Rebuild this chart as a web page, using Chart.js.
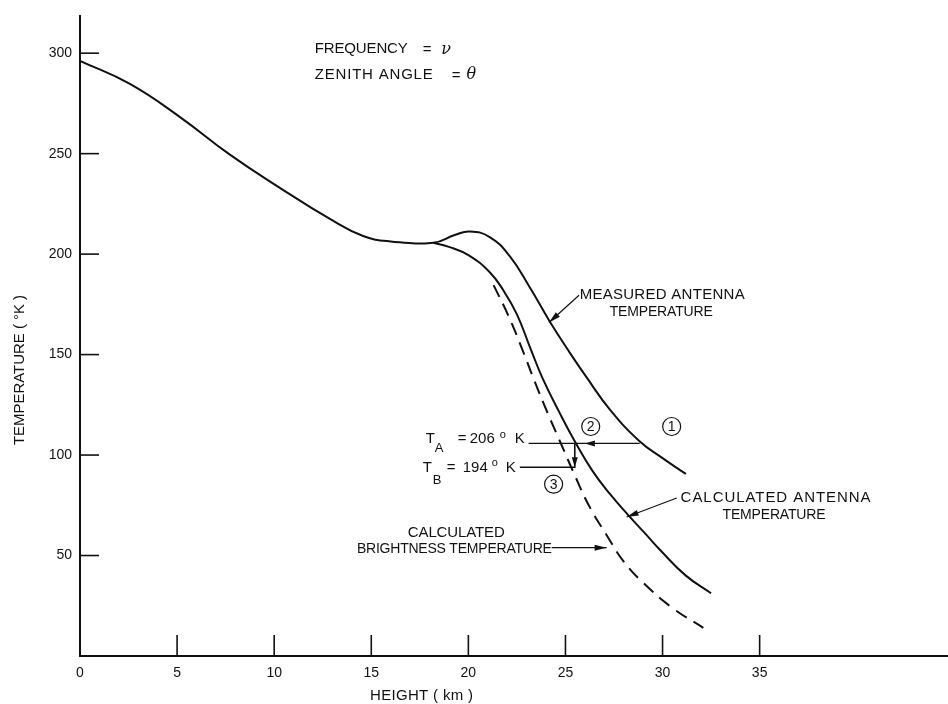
<!DOCTYPE html>
<html>
<head>
<meta charset="utf-8">
<script src="https://cdn.jsdelivr.net/npm/chart.js@4.4.1/dist/chart.umd.min.js"></script>
<style>
  html, body { margin: 0; padding: 0; background: #fff; }
  #wrap { width: 948px; height: 704px; }
</style>
</head>
<body>
<div id="wrap"><canvas id="c" width="948" height="704"></canvas></div>
<script>
// height (km) on x, temperature (K) on y
const xTicks = [0, 5, 10, 15, 20, 25, 30, 35];
const yTicks = [50, 100, 150, 200, 250, 300];

// measured antenna temperature (includes the shared lower part)
const measuredHeight = [0, 2.57, 5.15, 7.72, 10.29, 12.87, 14.58, 16.0, 18.2, 19.3, 20.07, 21.1, 22.13, 23.16, 24.19, 25.22, 26.1, 27.3, 28.8, 30.0, 31.2];
const measuredTemp   = [296.2, 284.7, 268.2, 249.5, 233, 217.5, 209, 206.3, 205.7, 209.5, 211.3, 208.5, 199, 183.5, 166.5, 151, 138.5, 122.5, 107, 98.5, 90.6];

// calculated antenna temperature (branches off at ~18 km)
const antennaHeight = [18.2, 19.0, 20.0, 21.1, 21.8, 22.5, 23.2, 23.83, 24.7, 25.5, 26.4, 27.3, 28.2, 29.1, 29.9, 31.2, 32.5];
const antennaTemp   = [205.7, 203.6, 199.5, 191, 182, 170, 153, 138, 121, 106.5, 92, 80.5, 70.5, 61, 52.5, 40, 31.2];

// calculated brightness temperature (dashed)
const brightHeight = [21.3, 22.1, 22.8, 23.4, 24.1, 24.8, 25.5, 26.2, 27.1, 28.0, 29.0, 30.5, 32.1];
const brightTemp   = [184.6, 168.5, 152, 137, 120.5, 105, 89.5, 75, 60.5, 47, 36.5, 24, 14];

const FONT = "'Liberation Sans', Arial, sans-serif";
const BLACK = '#111';

// annotation text: text, x (km), y (K), target width px, font px
const notes = [
  ['FREQUENCY', 12.09, 302, 93, 15],
  ['ZENITH ANGLE', 12.09, 289.1, 118, 15],
  ['MEASURED ANTENNA', 25.73, 179.9, 165, 15],
  ['TEMPERATURE', 27.28, 171, 103, 14],
  ['CALCULATED ANTENNA', 30.93, 78.6, 190, 15],
  ['TEMPERATURE', 33.09, 70.2, 103, 14],
  ['CALCULATED', 16.88, 61.3, 97, 15],
  ['BRIGHTNESS TEMPERATURE', 14.26, 53.4, 195, 14],
];

// T_A / T_B label pieces: text, x (km), y (K), font px
const readouts = [
  ['T', 17.81, 108.2, 15], ['A', 18.27, 103.3, 13], ['=', 19.45, 108.2, 15],
  ['206', 20.07, 108.2, 15], ['o', 21.62, 109.9, 11], ['K', 22.39, 108.2, 15],
  ['T', 17.65, 93.4, 15], ['B', 18.17, 87.5, 13], ['=', 18.89, 93.4, 15],
  ['194', 19.71, 93.4, 15], ['o', 21.2, 95.9, 11], ['K', 21.92, 93.4, 15],
];

// leader arrows: from (x,y) to (x,y), head at the end
const leaders = [
  [25.7, 179.5, 24.15, 166],
  [30.73, 78.6, 28.15, 69.2],
  [24.29, 53.9, 27.12, 53.9],
];

const circled = [['1', 30.47, 114.2], ['2', 26.3, 114.2], ['3', 24.39, 85.5]];

function fitText(ctx, text, x, y, width) {
  ctx.letterSpacing = '0px';
  const w = ctx.measureText(text).width;
  const sp = width && text.length > 1 ? (width - w) / (text.length - 1) : 0;
  ctx.letterSpacing = sp + 'px';
  ctx.fillText(text, x, y);
  ctx.letterSpacing = '0px';
}

function arrowHead(ctx, x, y, ang, len, half) {
  ctx.beginPath();
  ctx.moveTo(x, y);
  ctx.lineTo(x - len * Math.cos(ang) + half * Math.sin(ang), y - len * Math.sin(ang) - half * Math.cos(ang));
  ctx.lineTo(x - len * Math.cos(ang) - half * Math.sin(ang), y - len * Math.sin(ang) + half * Math.cos(ang));
  ctx.closePath();
  ctx.fill();
}

const decorations = {
  id: 'decorations',
  afterDraw(chart) {
    const ctx = chart.ctx;
    const sx = chart.scales.x, sy = chart.scales.y;
    const px = v => sx.getPixelForValue(v);
    const py = v => sy.getPixelForValue(v);
    const area = chart.chartArea;

    ctx.save();
    ctx.strokeStyle = BLACK;
    ctx.fillStyle = BLACK;

    // inward tick marks
    ctx.lineWidth = 1.6;
    xTicks.forEach(v => {
      if (v === 0) return;
      ctx.beginPath();
      ctx.moveTo(px(v), area.bottom);
      ctx.lineTo(px(v), area.bottom - 21);
      ctx.stroke();
    });
    yTicks.forEach(v => {
      ctx.beginPath();
      ctx.moveTo(area.left, py(v));
      ctx.lineTo(area.left + 19, py(v));
      ctx.stroke();
    });

    // texts
    ctx.textBaseline = 'middle';
    ctx.textAlign = 'left';
    notes.forEach(n => {
      ctx.font = `${n[4]}px ${FONT}`;
      fitText(ctx, n[0], px(n[1]), py(n[2]), n[3]);
    });

    ctx.font = `15px ${FONT}`;
    ctx.fillText('=', px(17.65), py(301.5));
    ctx.fillText('=', px(19.15), py(288.6));
    ctx.font = `italic 16px 'DejaVu Serif', serif`;
    ctx.fillText('ν', px(18.6), py(301.5));
    ctx.fillText('θ', px(19.9), py(289.1));

    readouts.forEach(r => {
      ctx.font = `${r[3]}px ${FONT}`;
      ctx.fillText(r[0], px(r[1]), py(r[2]));
    });

    // T_A horizontal line with left arrow
    ctx.lineWidth = 1.2;
    ctx.beginPath();
    ctx.moveTo(px(23.1), py(105.8));
    ctx.lineTo(px(28.82), py(105.8));
    ctx.stroke();
    arrowHead(ctx, px(26.0), py(105.8), Math.PI, 10, 3);
    // T_B line and drop arrow
    ctx.lineWidth = 1.6;
    ctx.beginPath();
    ctx.moveTo(px(22.65), py(93.9));
    ctx.lineTo(px(25.48), py(93.9));
    ctx.lineTo(px(25.48), py(105.8));
    ctx.stroke();
    arrowHead(ctx, px(25.48), py(93.9), Math.PI / 2, 10, 3);

    // leader arrows
    ctx.lineWidth = 1.2;
    leaders.forEach(l => {
      const x0 = px(l[0]), y0 = py(l[1]), x1 = px(l[2]), y1 = py(l[3]);
      ctx.beginPath();
      ctx.moveTo(x0, y0);
      ctx.lineTo(x1, y1);
      ctx.stroke();
      arrowHead(ctx, x1, y1, Math.atan2(y1 - y0, x1 - x0), 12, 3);
    });

    // circled numbers
    ctx.lineWidth = 1.2;
    ctx.textAlign = 'center';
    ctx.font = `14px ${FONT}`;
    circled.forEach(c => {
      const cx = px(c[1]), cy = py(c[2]);
      ctx.beginPath();
      ctx.arc(cx, cy, 9, 0, Math.PI * 2);
      ctx.stroke();
      ctx.fillText(c[0], cx, cy + 1);
    });

    // axis titles
    ctx.font = `15px ${FONT}`;
    ctx.textAlign = 'left';
    fitText(ctx, 'HEIGHT ( km )', 370, 696, 103);
    ctx.translate(20, 370);
    ctx.rotate(-Math.PI / 2);
    fitText(ctx, 'TEMPERATURE ( °K )', -75, 0, 150);

    ctx.restore();
  }
};

const lineStyle = {
  showLine: true,
  pointRadius: 0,
  borderColor: BLACK,
  borderWidth: 2,
  fill: false,
  tension: 0.45,
};

new Chart(document.getElementById('c'), {
  type: 'scatter',
  data: {
    datasets: [
      Object.assign({ label: 'Measured antenna temperature',
        data: measuredHeight.map((x, i) => ({ x, y: measuredTemp[i] })) }, lineStyle),
      Object.assign({ label: 'Calculated antenna temperature',
        data: antennaHeight.map((x, i) => ({ x, y: antennaTemp[i] })) }, lineStyle),
      Object.assign({ label: 'Calculated brightness temperature',
        data: brightHeight.map((x, i) => ({ x, y: brightTemp[i] })) }, lineStyle, { borderDash: [13, 8] }),
    ],
  },
  options: {
    responsive: false,
    devicePixelRatio: 1,
    animation: false,
    layout: { padding: { top: 12, right: 0, bottom: 0, left: 0 } },
    plugins: { legend: { display: false }, tooltip: { enabled: false } },
    scales: {
      x: {
        type: 'linear',
        min: 0,
        max: 44.7,
        afterBuildTicks: s => { s.ticks = xTicks.map(v => ({ value: v })); },
        afterFit: s => { s.height = 48; },
        grid: { display: false, drawTicks: false },
        border: { display: true, color: BLACK, width: 2 },
        ticks: { color: BLACK, font: { family: FONT, size: 14 }, padding: 9, maxRotation: 0, autoSkip: false },
      },
      y: {
        type: 'linear',
        min: 0,
        max: 318.3,
        afterBuildTicks: s => { s.ticks = yTicks.map(v => ({ value: v })); },
        afterFit: s => { s.width = 80; },
        grid: { display: false, drawTicks: false },
        border: { display: true, color: BLACK, width: 2 },
        ticks: { color: BLACK, font: { family: FONT, size: 14 }, padding: 8 },
      },
    },
  },
  plugins: [decorations],
});
</script>
</body>
</html>
